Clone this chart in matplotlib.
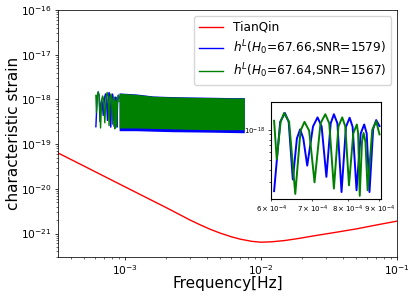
import numpy as np
import matplotlib
matplotlib.use("Agg")
import matplotlib.pyplot as plt
from matplotlib.ticker import NullFormatter

# thin lines / short ticks, the figure looks scaled down from a bigger one
plt.rcParams['axes.linewidth'] = 0.55
for a in ['xtick', 'ytick']:
    plt.rcParams[a + '.major.size'] = 2.3
    plt.rcParams[a + '.minor.size'] = 1.3
    plt.rcParams[a + '.major.width'] = 0.55
    plt.rcParams[a + '.minor.width'] = 0.4
    plt.rcParams[a + '.major.pad'] = 2.3
    plt.rcParams[a + '.minor.pad'] = 2.3

# TianQin sensitivity curve
tq_freq = [3e-4, 5e-4, 1e-3, 2e-3, 3e-3, 3.5e-3, 4.2e-3, 5e-3, 6e-3, 7e-3, 8.5e-3, 1e-2,
           1.2e-2, 1.5e-2, 1.9e-2, 2.5e-2, 3.5e-2, 5e-2, 7e-2, 1e-1]
tq_strain = [7.0e-20, 3.2e-20, 1.1e-20, 3.8e-21, 2.0e-21, 1.6e-21, 1.25e-21, 1.02e-21,
             8.5e-22, 7.5e-22, 6.7e-22, 6.4e-22, 6.55e-22, 7.0e-22, 7.8e-22, 9.0e-22,
             1.06e-21, 1.27e-21, 1.55e-21, 1.9e-21]

# signal in the zoomed window (H0=67.66), peaks, shoulders and dips
blue_freq = [6.07e-4, 6.21e-4, 6.32e-4, 6.41e-4, 6.51e-4, 6.61e-4, 6.69e-4, 6.77e-4,
             6.87e-4, 7.02e-4, 7.14e-4, 7.25e-4, 7.38e-4, 7.50e-4, 7.59e-4, 7.69e-4,
             7.81e-4, 7.94e-4, 8.05e-4, 8.14e-4, 8.26e-4, 8.39e-4, 8.50e-4, 8.58e-4,
             8.67e-4, 8.79e-4, 8.89e-4, 9.0e-4]
blue_strain = [2.45e-19, 1.2e-18, 1.47e-18, 1.2e-18, 3.2e-19, 8.2e-19, 1.01e-18, 8.2e-19,
               4.4e-19, 1.08e-18, 1.33e-18, 1.08e-18, 3.4e-19, 1.16e-18, 1.43e-18, 1.16e-18,
               2.4e-19, 1.07e-18, 1.32e-18, 1.07e-18, 2.5e-19, 9.2e-19, 1.13e-18, 9.2e-19,
               2.4e-19, 1.02e-18, 1.25e-18, 1.09e-18]

# signal in the zoomed window (H0=67.64)
green_freq = [6.07e-4, 6.13e-4, 6.22e-4, 6.30e-4, 6.42e-4, 6.57e-4, 6.70e-4, 6.80e-4,
              6.92e-4, 7.06e-4, 7.22e-4, 7.35e-4, 7.46e-4, 7.59e-4, 7.72e-4, 7.83e-4,
              7.92e-4, 8.03e-4, 8.16e-4, 8.27e-4, 8.31e-4, 8.36e-4, 8.43e-4, 8.48e-4,
              8.54e-4, 8.61e-4, 8.76e-4, 8.89e-4, 9.0e-4]
green_strain = [1.23e-18, 5.1e-19, 1.2e-18, 1.47e-18, 1.2e-18, 2.3e-19, 9.8e-19, 1.2e-18,
                9.8e-19, 3.0e-19, 1.16e-18, 1.43e-18, 1.16e-18, 2.6e-19, 1.08e-18, 1.33e-18,
                1.08e-18, 2.8e-19, 9.2e-19, 1.13e-18, 9.2e-19, 2.2e-19, 7.6e-19, 9.3e-19,
                7.6e-19, 2.5e-19, 1.0e-18, 1.22e-18, 9e-19]

# envelope of the dense oscillation above 9e-4 Hz
env_freq = [9e-4, 1.2e-3, 1.6e-3, 2.2e-3, 3e-3, 4.5e-3, 6e-3, 7.5e-3]
blue_top = [1.40e-18, 1.33e-18, 1.2e-18, 1.16e-18, 1.14e-18, 1.12e-18, 1.1e-18, 1.1e-18]
blue_bot = [2.0e-19, 2.0e-19, 1.95e-19, 1.9e-19, 1.88e-19, 1.85e-19, 1.82e-19, 1.8e-19]
green_top = [1.38e-18, 1.30e-18, 1.18e-18, 1.14e-18, 1.12e-18, 1.10e-18, 1.08e-18, 1.08e-18]
green_bot = [2.3e-19, 2.3e-19, 2.25e-19, 2.2e-19, 2.15e-19, 2.1e-19, 2.1e-19, 2.1e-19]

lab_b = r'$h^L$($H_0$=67.66,SNR=1579)'
lab_g = r'$h^L$($H_0$=67.64,SNR=1567)'

fig = plt.figure(figsize=(4.15, 2.96), dpi=100)
ax = fig.add_axes([0.140, 0.132, 0.817, 0.834])

ax.loglog(tq_freq, tq_strain, color='r', lw=1, label='TianQin')
ax.loglog(blue_freq, blue_strain, color='b', lw=1, label=lab_b)
ax.fill_between(env_freq, blue_bot, blue_top, color='b', lw=0)
ax.loglog(green_freq, green_strain, color='g', lw=1, label=lab_g)
ax.fill_between(env_freq, green_bot, green_top, color='g', lw=0)

ax.set_xlim(3.2e-4, 1e-1)
ax.set_ylim(3e-22, 1e-16)
ax.set_xlabel('Frequency[Hz]', fontsize=11)
ax.set_ylabel('characteristic strain', fontsize=11)
ax.xaxis.set_label_coords(0.5, -0.077)
ax.yaxis.set_label_coords(-0.108, 0.5)
ax.tick_params(labelsize=7.7)
ax.legend(loc='upper right', fontsize=8.7, labelspacing=0.35)

# zoomed inset
ins = fig.add_axes([0.653, 0.328, 0.265, 0.328])
ins.loglog(blue_freq, blue_strain, color='b', lw=1.4)
ins.loglog(green_freq, green_strain, color='g', lw=1.4)
ins.set_xlim(6e-4, 9.05e-4)
ins.set_ylim(2.05e-19, 1.9e-18)
ins.yaxis.set_minor_formatter(NullFormatter())
ins.tick_params(which='both', labelsize=5, width=0.5)
for s in ins.spines.values():
    s.set_linewidth(0.8)

fig.savefig('out.png', dpi=100)
